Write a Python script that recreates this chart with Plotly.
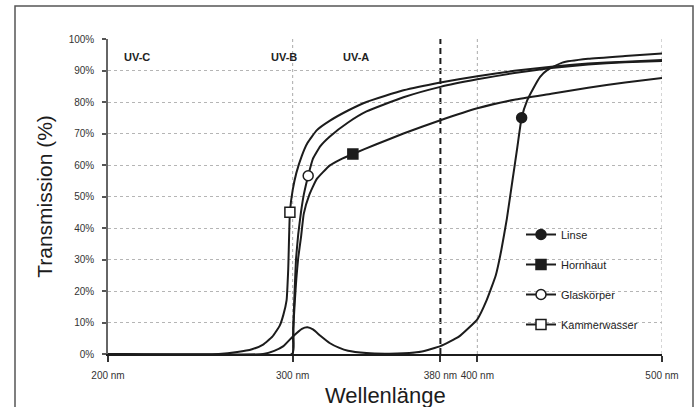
import plotly.graph_objects as go

# ---------------- data ----------------
LINSE_WL = [200, 284, 290, 295, 300, 305, 308, 311, 315, 320, 325, 330, 340, 350, 360, 370, 380,
            390, 400, 405, 410, 413, 416, 419, 421.5, 424, 427, 430, 434, 438, 446, 460, 480, 500]
LINSE_T = [0, 0, 1, 2.5, 5.5, 8, 8.5, 7.8, 5.8, 3.5, 2, 1, 0.3, 0.1, 0.2, 0.8, 2.5,
           5.5, 11, 17, 25, 33, 43, 55, 65, 75, 80.5, 84, 88, 90.2, 92.5, 93.7, 94.6, 95.4]
LINSE_MARK = (424, 75)

HORN_WL = [200, 299.8, 300.2, 300.6, 301.2, 302, 303, 304.5, 306, 309, 313, 320, 326, 332.6,
           345, 360, 380, 400, 420, 440, 460, 480, 500]
HORN_T = [0, 0, 5, 11, 17, 24, 30.5, 37, 44.5, 50.5, 55.5, 59.8, 61.8, 63.5,
          66.5, 70, 74.2, 78, 80.7, 82.6, 84.5, 86.2, 87.6]
HORN_MARK = (332.6, 63.5)

GLAS_WL = [200, 299.8, 300.3, 301, 301.8, 303, 304.5, 306, 308.4, 311, 315, 320, 330, 340,
           360, 380, 400, 420, 440, 460, 480, 500]
GLAS_T = [0, 0, 8, 19, 30, 38, 45, 50.5, 56.6, 62, 66, 69, 73.5, 77,
          81.5, 84.8, 87.2, 89.2, 90.8, 91.9, 92.6, 93]
GLAS_MARK = (308.4, 56.6)

KAMM_WL = [200, 260, 270, 278, 284, 289, 293, 295, 296.7, 297.6, 298.5, 300, 302, 305, 308, 313,
           320, 330, 340, 360, 380, 400, 420, 440, 460, 480, 500]
KAMM_T = [0, 0, 0.6, 1.5, 3, 5.5, 9, 12.5, 17, 27, 45, 52, 57.5, 63, 67, 71,
          74, 77.3, 80, 83.7, 86.2, 88.2, 89.9, 91.2, 92.2, 92.8, 93.3]
KAMM_MARK = (298.5, 45)

SERIES = [
    ("Linse", LINSE_WL, LINSE_T, LINSE_MARK, "circle", True),
    ("Hornhaut", HORN_WL, HORN_T, HORN_MARK, "square", True),
    ("Glaskörper", GLAS_WL, GLAS_T, GLAS_MARK, "circle", False),
    ("Kammerwasser", KAMM_WL, KAMM_T, KAMM_MARK, "square", False),
]

X_TICKS = [200, 300, 380, 400, 500]
X_TICKTEXT = ["200 nm", "300 nm", "380 nm", "400 nm", "500 nm"]
Y_TICKS = list(range(0, 101, 10))
Y_TICKTEXT = [f"{v}%" for v in Y_TICKS]

BANDS = [("UV-C", 215.7), ("UV-B", 295.3), ("UV-A", 334.3)]

# ---------------- figure ----------------
LINE_COLOR = "#1c1c1c"
FONT = "Arial, Liberation Sans, sans-serif"

fig = go.Figure()

for name, wl, t, mark, sym, filled in SERIES:
    fig.add_trace(go.Scatter(x=wl, y=t, mode="lines", showlegend=False,
                             line=dict(color=LINE_COLOR, width=2, shape="spline", smoothing=0.4),
                             hoverinfo="skip"))

for i, (name, wl, t, mark, sym, filled) in enumerate(SERIES):
    fig.add_trace(go.Scatter(
        x=[mark[0]], y=[mark[1]], mode="lines+markers", name=name,
        legendgroup=f"g{i}",
        line=dict(color=LINE_COLOR, width=2),
        marker=dict(symbol=sym, size=10, color=LINE_COLOR if filled else "white",
                    line=dict(color=LINE_COLOR, width=1.5)),
    ))

# vertical reference lines
for xv in [300, 400, 500]:
    fig.add_shape(type="line", x0=xv, x1=xv, y0=0, y1=100, xref="x", yref="y",
                  line=dict(color="#aaaaaa", width=1, dash="dot"), layer="below")
fig.add_shape(type="line", x0=380, x1=380, y0=0, y1=100, xref="x", yref="y",
              line=dict(color="#1c1c1c", width=2, dash="6px,4px"), layer="below")

# outer frame
fig.add_shape(type="rect", xref="paper", yref="paper",
              x0=(15 - 108) / 554, x1=(693 - 108) / 554,
              y0=(354 - 412) / 315, y1=(354 - 6) / 315,
              line=dict(color="#555555", width=1.5), fillcolor="rgba(0,0,0,0)")

for label, xv in BANDS:
    fig.add_annotation(x=xv, y=94.3, xref="x", yref="y", text=f"<b>{label}</b>",
                       showarrow=False, font=dict(family=FONT, size=11, color="#222222"))

# x axis title placed as in the reference (just below the tick-label band)
fig.add_annotation(x=0.5, y=(354 - 395) / 315, xref="paper", yref="paper",
                   text="Wellenlänge", showarrow=False, yanchor="middle",
                   font=dict(family=FONT, size=22, color="#1c1c1c"))

fig.update_layout(
    width=695, height=407,
    margin=dict(l=108, r=33, t=39, b=53),
    paper_bgcolor="white", plot_bgcolor="white",
    font=dict(family=FONT, color="#222222"),
    showlegend=True,
    legend=dict(x=(521 - 108) / 554, y=(354 - 220) / 315, xanchor="left", yanchor="top",
                bgcolor="rgba(255,255,255,0)", font=dict(family=FONT, size=11, color="#222222"),
                tracegroupgap=11, itemwidth=30),
)

fig.update_xaxes(
    range=[200, 500], tickmode="array", tickvals=X_TICKS, ticktext=X_TICKTEXT,
    showgrid=False, zeroline=False,
    showline=True, linecolor="#1c1c1c", linewidth=2,
    ticks="outside", ticklen=6, tickwidth=1.5, tickcolor="#333333",
    tickfont=dict(family=FONT, size=10, color="#333333"),
    ticklabelstandoff=5,
)
fig.update_yaxes(
    range=[0, 100], tickmode="array", tickvals=Y_TICKS, ticktext=Y_TICKTEXT,
    showgrid=True, gridcolor="#b5b5b5", griddash="dot", gridwidth=1, zeroline=False,
    showline=True, linecolor="#666666", linewidth=1.5,
    ticks="outside", ticklen=4, tickwidth=1.5, tickcolor="#555555",
    tickfont=dict(family=FONT, size=10, color="#333333"),
    ticklabelstandoff=6,
    title=dict(text="Transmission (%)", font=dict(family=FONT, size=21, color="#1c1c1c"), standoff=10),
)

fig.write_html("out.html")
